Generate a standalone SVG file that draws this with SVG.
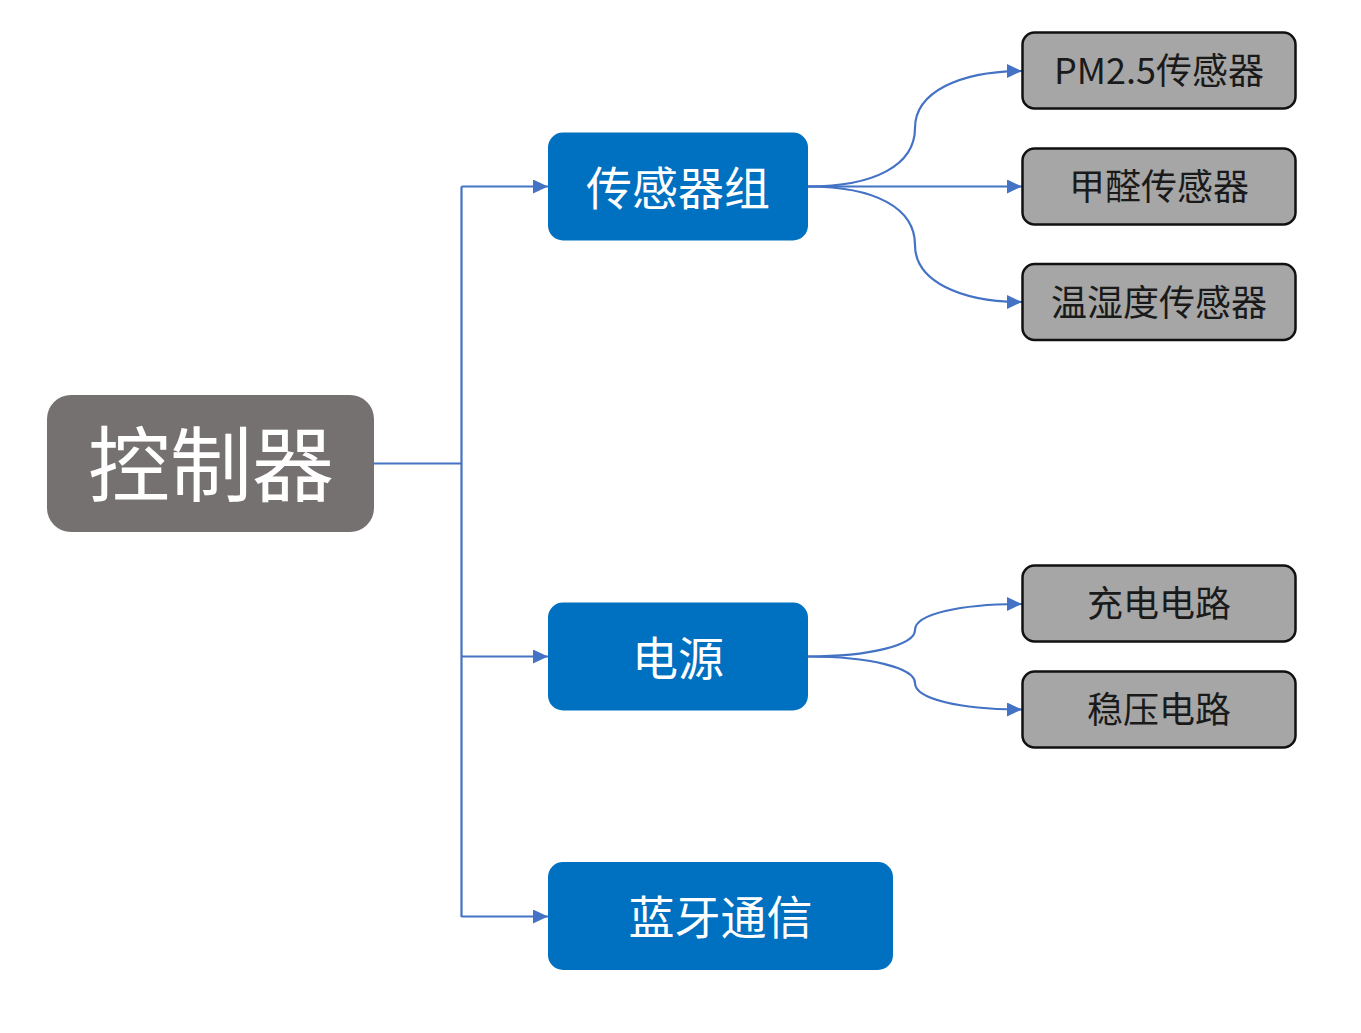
<svg xmlns="http://www.w3.org/2000/svg" width="1361" height="1033" viewBox="0 0 1361 1033">
<defs>
<style>
.conn{fill:none;stroke:#4472C4;stroke-width:2.2}
.blue rect{fill:#0070C0}
.blue text{fill:#fff;font-size:46px}
.gray rect{fill:#A6A6A6;stroke:#111;stroke-width:2.5}
.gray text{fill:#1a1a1a;font-size:36px}
text{font-family:"Noto Sans CJK SC","Noto Sans",sans-serif;text-anchor:middle}
</style>
<marker id="arr" viewBox="0 0 15 14" refX="15" refY="7" markerWidth="15" markerHeight="14" markerUnits="userSpaceOnUse" orient="auto">
<path d="M0,0 L15,7 L0,14 z" fill="#4472C4"/>
</marker>
</defs>
<rect width="1361" height="1033" fill="#fff"/>
<g id="connectors">
<path class="conn" d="M374,463.5 H461.5"/>
<path class="conn" d="M461.5,186.5 V917" />
<path class="conn" d="M461.5,186.5 H548" marker-end="url(#arr)"/>
<path class="conn" d="M461.5,656.5 H548" marker-end="url(#arr)"/>
<path class="conn" d="M461.5,916.5 H548" marker-end="url(#arr)"/>
<path class="conn" d="M808,186.5 C875,186.5 915,165 915,128 C915,92 960,71 1022,71" marker-end="url(#arr)"/>
<path class="conn" d="M808,186.5 H1022" marker-end="url(#arr)"/>
<path class="conn" d="M808,186.5 C875,186.5 915,208 915,245 C915,281 960,302 1022,302" marker-end="url(#arr)"/>
<path class="conn" d="M808,656.5 C870,656.5 915,645 915,630 C915,614 960,604 1022,604" marker-end="url(#arr)"/>
<path class="conn" d="M808,656.5 C870,656.5 915,668 915,683 C915,699 960,709.5 1022,709.5" marker-end="url(#arr)"/>
</g>
<g id="controller">
<rect x="47" y="395" width="327" height="137" rx="24" fill="#767171"/>
<text x="211" y="495" font-size="82" fill="#fff">控制器</text>
</g>
<g id="sensors" class="blue">
<rect x="548" y="132.5" width="260" height="108" rx="15"/>
<text x="678" y="204.5">传感器组</text>
</g>
<g id="power" class="blue">
<rect x="548" y="602.5" width="260" height="108" rx="15"/>
<text x="678" y="674.5">电源</text>
</g>
<g id="bluetooth" class="blue">
<rect x="548" y="862" width="345" height="108" rx="15"/>
<text x="720.5" y="934">蓝牙通信</text>
</g>
<g id="pm25" class="gray">
<rect x="1022.5" y="32.5" width="273" height="76" rx="12"/>
<text x="1159" y="84">PM2.5传感器</text>
</g>
<g id="hcho" class="gray">
<rect x="1022.5" y="148.5" width="273" height="76" rx="12"/>
<text x="1159" y="200">甲醛传感器</text>
</g>
<g id="temphum" class="gray">
<rect x="1022.5" y="264" width="273" height="76" rx="12"/>
<text x="1159" y="315.5">温湿度传感器</text>
</g>
<g id="charge" class="gray">
<rect x="1022.5" y="565.5" width="273" height="76" rx="12"/>
<text x="1159" y="617">充电电路</text>
</g>
<g id="regulator" class="gray">
<rect x="1022.5" y="671.5" width="273" height="76" rx="12"/>
<text x="1159" y="723">稳压电路</text>
</g>
</svg>
